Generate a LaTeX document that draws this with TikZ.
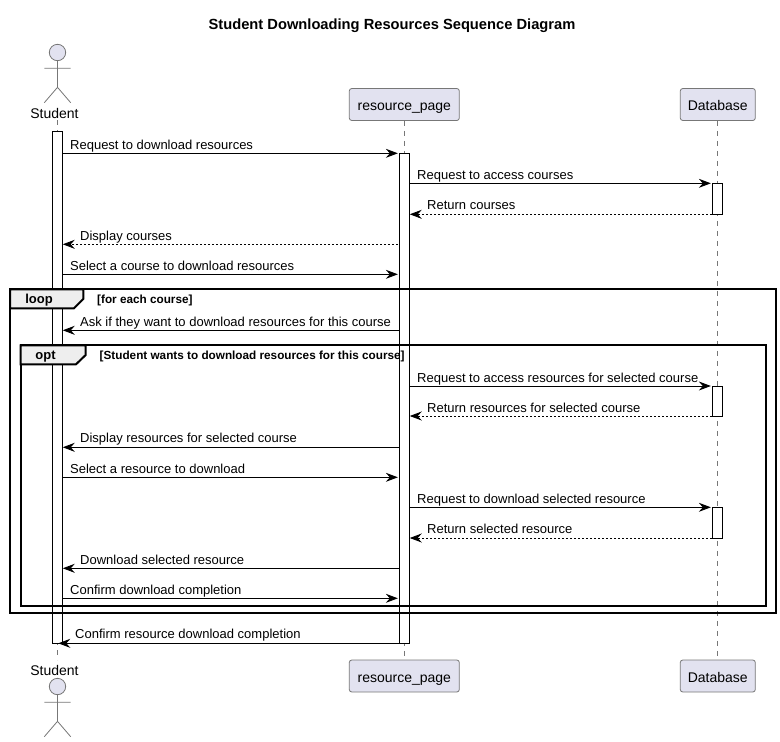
\documentclass[tikz,border=0pt]{standalone}
\usepackage{fontspec}
\setmainfont{Liberation Sans}
\usetikzlibrary{arrows.meta}

\definecolor{partfill}{HTML}{E2E2F0}
\definecolor{partline}{HTML}{777777}
\definecolor{tabfill}{HTML}{EEEEEE}

\tikzset{
  part/.style={draw=partline,fill=partfill,line width=0.8pt,rounded corners=2.5pt,inner sep=0pt,minimum height=32pt,text height=14pt,text depth=2pt,font=\fontsize{14}{16}\selectfont},
  actorname/.style={inner sep=0pt,font=\fontsize{14}{16}\selectfont},
  actorline/.style={draw=partline,line width=0.8pt},
  lifeline/.style={draw=partline,line width=0.7pt,dash pattern=on 5pt off 5pt},
  actbar/.style={draw=black,fill=white,line width=0.9pt,inner sep=0pt,minimum width=10pt},
  frm/.style={draw=black,line width=2pt,inner sep=0pt},
  tabshape/.style={draw=black,fill=tabfill,line width=2pt},
  tabname/.style={inner sep=0pt,font=\fontsize{13}{15}\bfseries\selectfont},
  guard/.style={anchor=base west,inner sep=0pt,font=\fontsize{11.75}{13}\bfseries\selectfont},
  msg/.style={-{Stealth[length=12pt,width=9pt,inset=4pt]},line width=0.9pt},
  reply/.style={msg,dash pattern=on 2pt off 2pt},
  msglabel/.style={anchor=base west,inner sep=0pt,font=\fontsize{13}{15}\selectfont}
}

\begin{document}
\begin{tikzpicture}[x=1pt,y=-1pt]
\useasboundingbox (0,0) rectangle (780,742);

\node[inner sep=0pt,font=\fontsize{14.7}{16}\bfseries\selectfont] (title) at (392,26) {Student Downloading Resources Sequence Diagram};

% participants
\node[actorname] (studentTop) at (54.5,113) {Student};
\node[actorname] (studentBot) at (54.5,670) {Student};
\node[part,minimum width=110pt] (pageTop) at (404.3,104.5) {resource\_page};
\node[part,minimum width=110pt] (pageBot) at (404.3,676) {resource\_page};
\node[part,minimum width=75pt] (dbTop) at (717.8,104.5) {Database};
\node[part,minimum width=75pt] (dbBot) at (717.8,676) {Database};

% actors
\begin{scope}[shift={(57.5,52.5)}]
\draw[actorline,fill=partfill] (0,0) circle (8.2pt);
\draw[actorline] (0,8.2) -- (0,34.8) (-13.2,15.8) -- (13.2,15.8) (-13.2,50.2) -- (0,34.8) -- (13.2,50.2);
\end{scope}
\begin{scope}[shift={(57.5,686.5)}]
\draw[actorline,fill=partfill] (0,0) circle (8.2pt);
\draw[actorline] (0,8.2) -- (0,34.8) (-13.2,15.8) -- (13.2,15.8) (-13.2,50.2) -- (0,34.8) -- (13.2,50.2);
\end{scope}

% lifelines
\coordinate (studentStart) at (57.5,120);
\coordinate (studentEnd) at (57.5,660);
\draw[lifeline] (studentStart) -- (studentEnd);
\draw[lifeline] (pageTop) -- (pageBot);
\draw[lifeline] (dbTop) -- (dbBot);

% activation bars
\node[actbar,minimum height=512pt] (studentBar) at (57.3,387.3) {};
\node[actbar,minimum height=490pt] (pageBar) at (404.3,398.3) {};
\node[actbar,minimum height=31pt] (dbBarA) at (717.3,198.8) {};
\node[actbar,minimum height=30pt] (dbBarB) at (717.3,401) {};
\node[actbar,minimum height=31pt] (dbBarC) at (717.3,522.5) {};

% frames
\node[frm,minimum width=766pt,minimum height=324pt] (loopFrame) at (393,451.3) {};
\node[frm,minimum width=745.5pt,minimum height=260.5pt] (optFrame) at (393.3,475.6) {};
\draw[tabshape] (10,289.3) -- (83.3,289.3) -- (83.3,299) -- (74,308.3) -- (10,308.3) -- cycle;
\draw[tabshape] (20.5,345.3) -- (85.7,345.3) -- (85.7,355) -- (76,364.3) -- (20.5,364.3) -- cycle;
\node[tabname] (loopName) at (39,300.5) {loop};
\node[tabname] (optName) at (45.5,356.5) {opt};
\node[guard] (loopGuard) at (97,303.5) {[for each course]};
\node[guard] (optGuard) at (99.5,359.5) {[Student wants to download resources for this course]};

% messages
\draw[msg] (studentBar.east |- 0,153.3) -- ([xshift=-1pt]pageBar.west |- 0,153.3);
\draw[msg] (pageBar.east |- 0,183.3) -- ([xshift=-1pt]dbBarA.west |- 0,183.3);
\draw[reply] (dbBarA.west |- 0,214.3) -- (pageBar.east |- 0,214.3);
\draw[reply] ([xshift=-1pt]pageBar.west |- 0,244.3) -- (studentBar.east |- 0,244.3);
\draw[msg] (studentBar.east |- 0,274.3) -- ([xshift=-1pt]pageBar.west |- 0,274.3);
\draw[msg] (pageBar.west |- 0,330.3) -- (studentBar.east |- 0,330.3);
\draw[msg] (pageBar.east |- 0,386) -- ([xshift=-1pt]dbBarB.west |- 0,386);
\draw[reply] (dbBarB.west |- 0,416) -- (pageBar.east |- 0,416);
\draw[msg] (pageBar.west |- 0,447.3) -- (studentBar.east |- 0,447.3);
\draw[msg] (studentBar.east |- 0,477.3) -- ([xshift=-1pt]pageBar.west |- 0,477.3);
\draw[msg] (pageBar.east |- 0,507.3) -- ([xshift=-1pt]dbBarC.west |- 0,507.3);
\draw[reply] (dbBarC.west |- 0,538) -- (pageBar.east |- 0,538);
\draw[msg] (pageBar.west |- 0,568.3) -- (studentBar.east |- 0,568.3);
\draw[msg] (studentBar.east |- 0,598.3) -- ([xshift=-1pt]pageBar.west |- 0,598.3);
\draw[msg] (pageBar.west |- 0,643.3) -- ([xshift=1pt]studentBar.center |- 0,643.3);

% message labels
\node[msglabel] (labelA) at (70,149) {Request to download resources};
\node[msglabel] (labelB) at (417,179) {Request to access courses};
\node[msglabel] (labelC) at (427,209) {Return courses};
\node[msglabel] (labelD) at (80,240) {Display courses};
\node[msglabel] (labelE) at (70,270) {Select a course to download resources};
\node[msglabel] (labelF) at (80,326) {Ask if they want to download resources for this course};
\node[msglabel] (labelG) at (417,382) {Request to access resources for selected course};
\node[msglabel] (labelH) at (427,412) {Return resources for selected course};
\node[msglabel] (labelI) at (80,442) {Display resources for selected course};
\node[msglabel] (labelJ) at (70,473) {Select a resource to download};
\node[msglabel] (labelK) at (417,503) {Request to download selected resource};
\node[msglabel] (labelL) at (427,533) {Return selected resource};
\node[msglabel] (labelM) at (80,564) {Download selected resource};
\node[msglabel] (labelN) at (70,594) {Confirm download completion};
\node[msglabel] (labelO) at (75,638) {Confirm resource download completion};

\end{tikzpicture}
\end{document}
